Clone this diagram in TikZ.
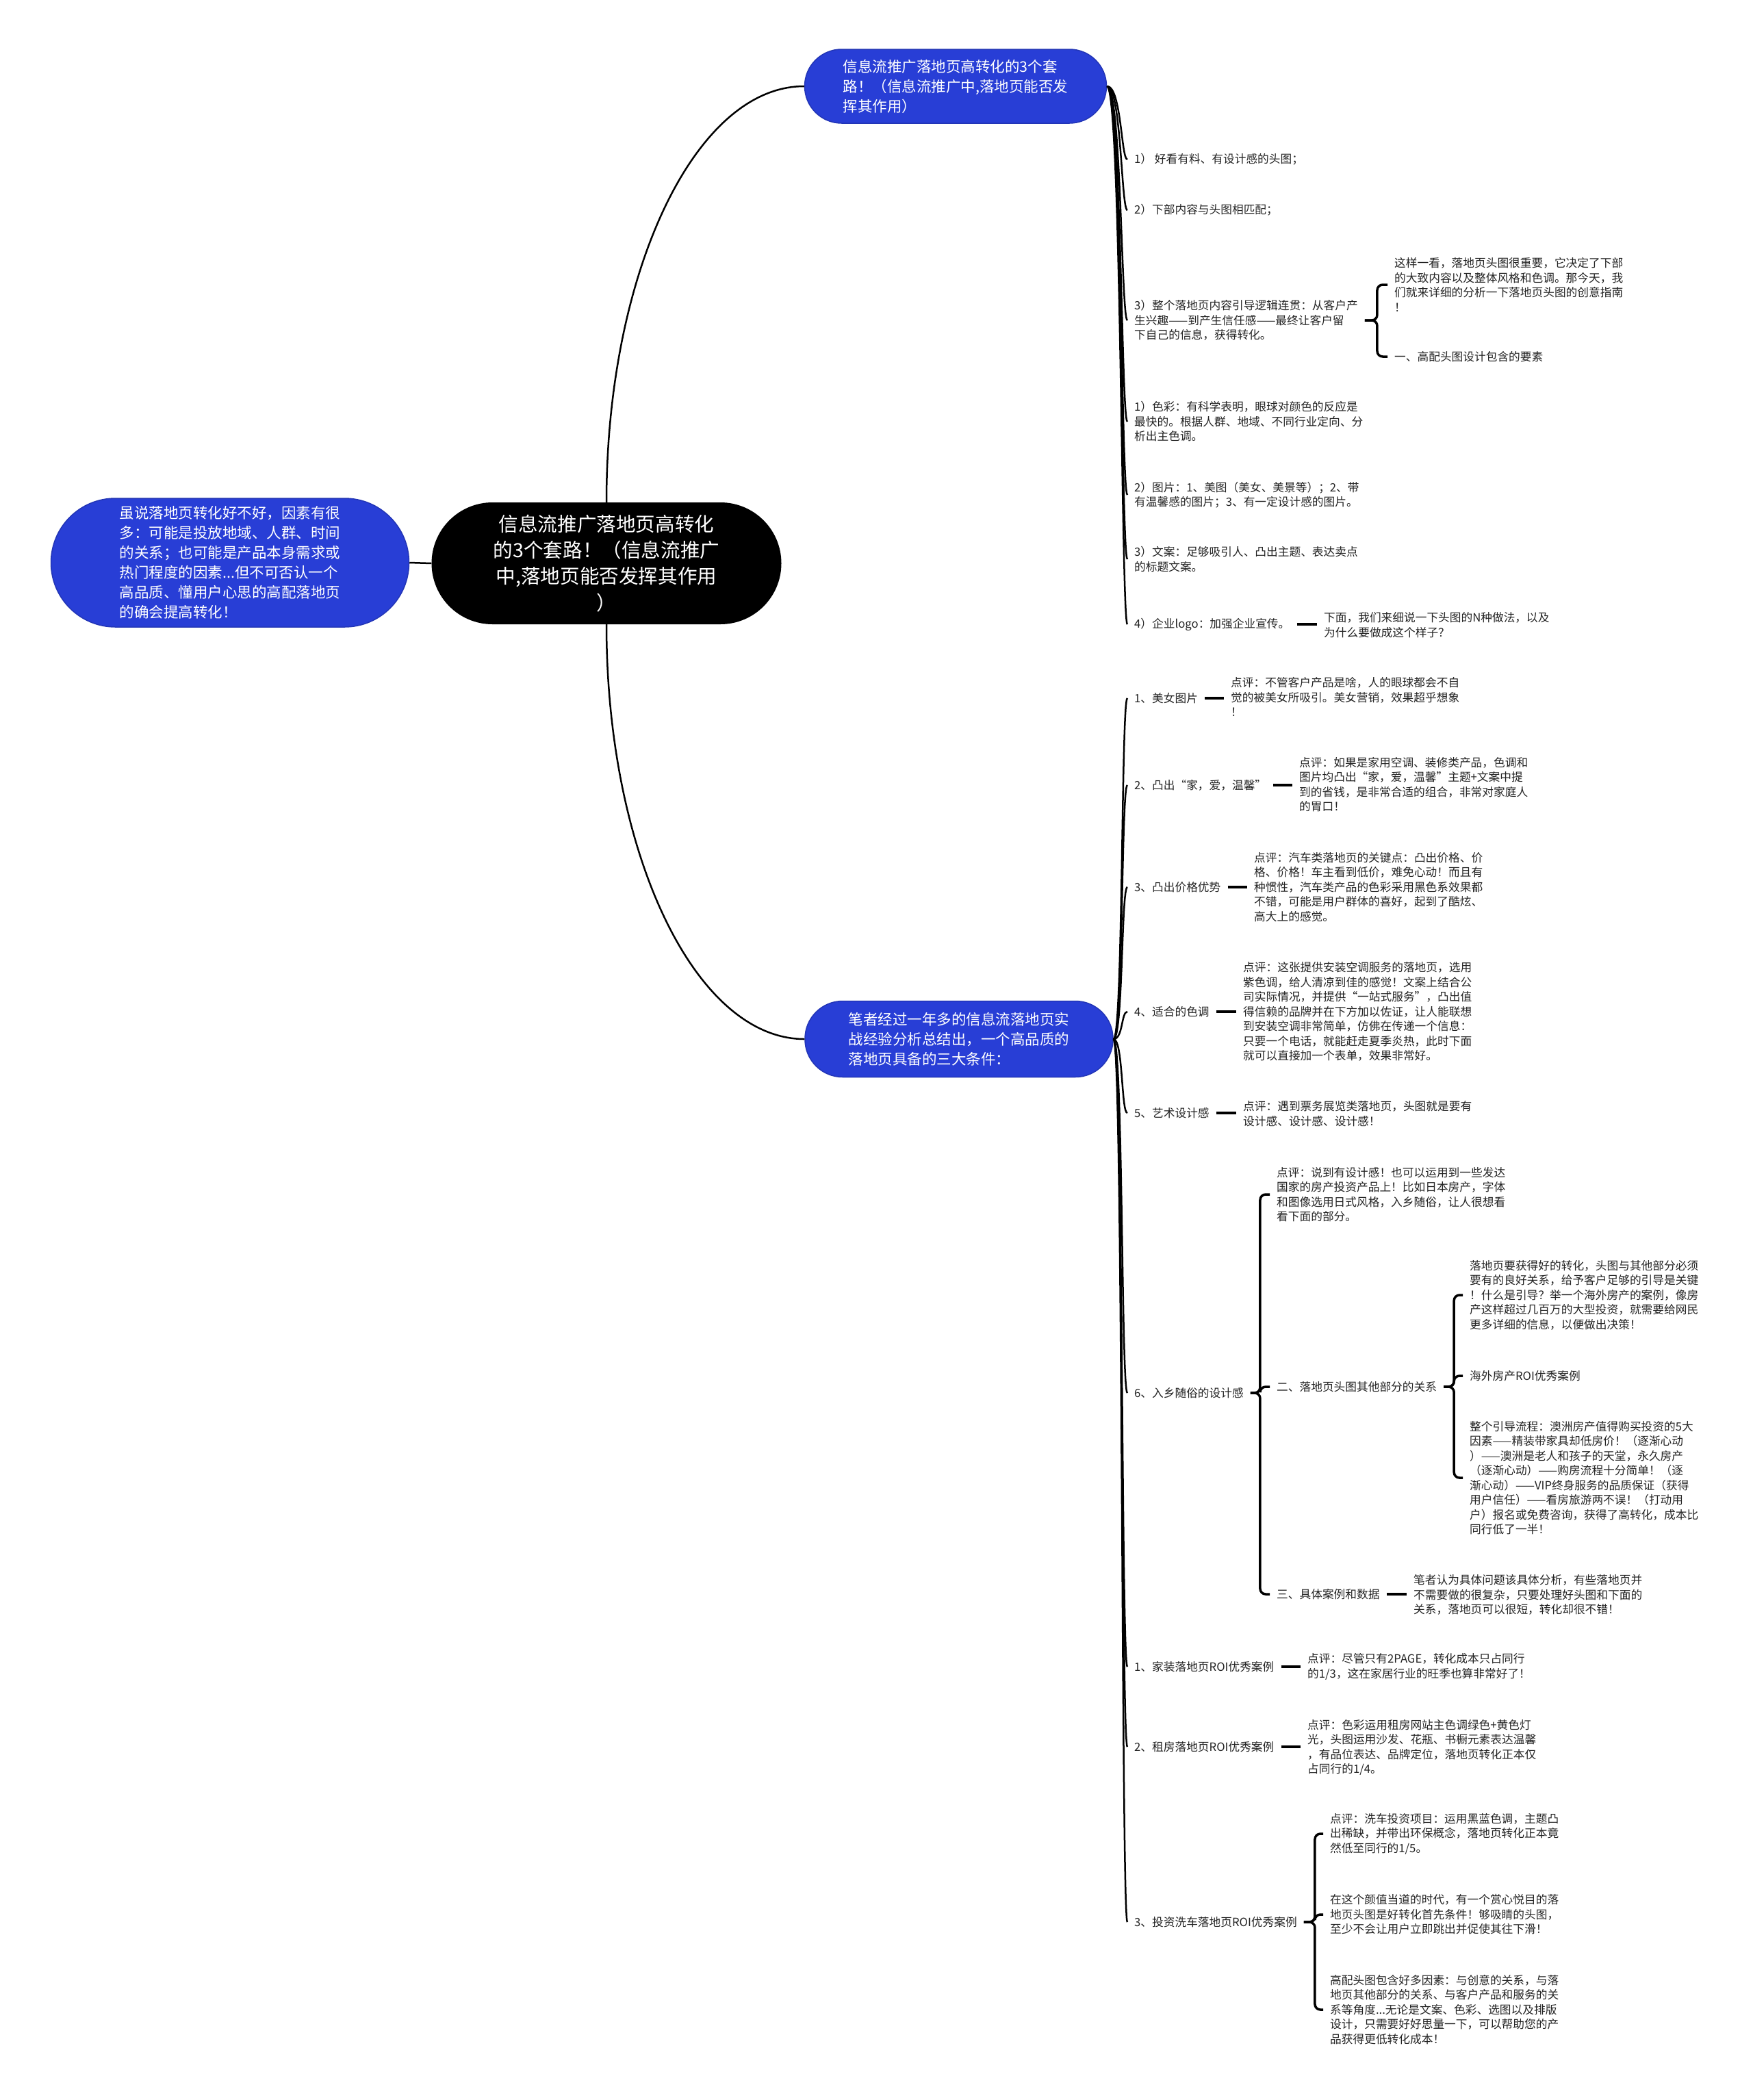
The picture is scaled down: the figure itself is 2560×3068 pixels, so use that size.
\documentclass[tikz,border=0pt]{standalone}
\usepackage{fontspec}
\setmainfont{Noto Sans CJK SC}
\usetikzlibrary{positioning,calc}

\definecolor{mapblue}{RGB}{40,62,214}
\definecolor{mapink}{RGB}{35,35,35}

\begin{document}
\begin{tikzpicture}[x=1pt, y=-1pt,
  rootbox/.style={rounded corners=89pt, fill=black, text=white, align=center, minimum width=511pt, minimum height=178pt, font=\fontsize{28.6}{38.2}\selectfont},
  topic/.style={rounded corners=54pt, fill=mapblue, draw=mapblue!85!black, line width=1.5pt, text=white, align=left, font=\fontsize{21.5}{29}\selectfont},
  note/.style={anchor=west, inner xsep=10pt, inner ysep=2pt, align=left, text=mapink, font=\fontsize{16.7}{21.5}\selectfont},
  link/.style={line width=2.5pt, black},
  brace/.style={line width=3.5pt, black, rounded corners=8pt}]
  \useasboundingbox (0,0) rectangle (2560,3068);

  \node[rootbox] (root) at (886,823)
    {信息流推广落地页高转化\\的3个套路！（信息流推广\\中,落地页能否发挥其作用\\）};
  \node[topic, minimum width=523pt, minimum height=188pt, rounded corners=94pt] (intro) at (336,822)
    {虽说落地页转化好不好，因素有很\\多：可能是投放地域、人群、时间\\的关系；也可能是产品本身需求或\\热门程度的因素...但不可否认一个\\高品质、懂用户心思的高配落地页\\的确会提高转化！};
  \node[topic, minimum width=441pt, minimum height=108pt] (tricks) at (1396,126)
    {信息流推广落地页高转化的3个套\\路！（信息流推广中,落地页能否发\\挥其作用）};
  \node[topic, minimum width=450pt, minimum height=111pt, rounded corners=55pt] (terms) at (1401,1518)
    {笔者经过一年多的信息流落地页实\\战经验分析总结出，一个高品质的\\落地页具备的三大条件：};

  \node[note] (h1) at (1647,233) {1）\ 好看有料、有设计感的头图；};
  \node[note] (h2) at (1647,307) {2）下部内容与头图相匹配；};
  \node[note] (h3) at (1647,468) {3）整个落地页内容引导逻辑连贯：从客户产\\生兴趣——到产生信任感——最终让客户留\\下自己的信息，获得转化。};
  \node[note] (h3a) at (2027,416) {这样一看，落地页头图很重要，它决定了下部\\的大致内容以及整体风格和色调。那今天，我\\们就来详细的分析一下落地页头图的创意指南\\！};
  \node[note] (h3b) at (2027,521) {一、高配头图设计包含的要素};
  \node[note] (h4) at (1647,616) {1）色彩：有科学表明，眼球对颜色的反应是\\最快的。根据人群、地域、不同行业定向、分\\析出主色调。};
  \node[note] (h5) at (1647,723) {2）图片：1、美图（美女、美景等）；2、带\\有温馨感的图片；3、有一定设计感的图片。};
  \node[note] (h6) at (1647,817) {3）文案：足够吸引人、凸出主题、表达卖点\\的标题文案。};
  \node[note] (h7) at (1647,912) {4）企业logo：加强企业宣传。};
  \node[note] (h7a) at (1924,913) {下面，我们来细说一下头图的N种做法，以及\\为什么要做成这个样子？};

  \node[note] (c1) at (1647,1020) {1、美女图片};
  \node[note] (c1a) at (1788,1018) {点评：不管客户产品是啥，人的眼球都会不自\\觉的被美女所吸引。美女营销，效果超乎想象\\！};
  \node[note] (c2) at (1647,1147) {2、凸出“家，爱，温馨”};
  \node[note] (c2a) at (1888,1146) {点评：如果是家用空调、装修类产品，色调和\\图片均凸出“家，爱，温馨”主题+文案中提\\到的省钱，是非常合适的组合，非常对家庭人\\的胃口！};
  \node[note] (c3) at (1647,1296) {3、凸出价格优势};
  \node[note] (c3a) at (1822,1296) {点评：汽车类落地页的关键点：凸出价格、价\\格、价格！车主看到低价，难免心动！而且有\\种惯性，汽车类产品的色彩采用黑色系效果都\\不错，可能是用户群体的喜好，起到了酷炫、\\高大上的感觉。};
  \node[note] (c4) at (1647,1478) {4、适合的色调};
  \node[note] (c4a) at (1806,1478) {点评：这张提供安装空调服务的落地页，选用\\紫色调，给人清凉到佳的感觉！文案上结合公\\司实际情况，并提供“一站式服务”，凸出值\\得信赖的品牌并在下方加以佐证，让人能联想\\到安装空调非常简单，仿佛在传递一个信息：\\只要一个电话，就能赶走夏季炎热，此时下面\\就可以直接加一个表单，效果非常好。};
  \node[note] (c5) at (1647,1626) {5、艺术设计感};
  \node[note] (c5a) at (1806,1627) {点评：遇到票务展览类落地页，头图就是要有\\设计感、设计感、设计感！};
  \node[note] (c6) at (1647,2035) {6、入乡随俗的设计感};
  \node[note] (c6a) at (1855,1745) {点评：说到有设计感！也可以运用到一些发达\\国家的房产投资产品上！比如日本房产，字体\\和图像选用日式风格，入乡随俗，让人很想看\\看下面的部分。};
  \node[note] (c6b) at (1855,2026) {二、落地页头图其他部分的关系};
  \node[note] (c6b1) at (2137,1892) {落地页要获得好的转化，头图与其他部分必须\\要有的良好关系，给予客户足够的引导是关键\\！什么是引导？举一个海外房产的案例，像房\\产这样超过几百万的大型投资，就需要给网民\\更多详细的信息，以便做出决策！};
  \node[note] (c6b2) at (2137,2010) {海外房产ROI优秀案例};
  \node[note] (c6b3) at (2137,2159) {整个引导流程：澳洲房产值得购买投资的5大\\因素——精装带家具却低房价！（逐渐心动\\）——澳洲是老人和孩子的天堂，永久房产\\（逐渐心动）——购房流程十分简单！（逐\\渐心动）——VIP终身服务的品质保证（获得\\用户信任）——看房旅游两不误！（打动用\\户）报名或免费咨询，获得了高转化，成本比\\同行低了一半！};
  \node[note] (c6c) at (1855,2329) {三、具体案例和数据};
  \node[note] (c6c1) at (2055,2330) {笔者认为具体问题该具体分析，有些落地页并\\不需要做的很复杂，只要处理好头图和下面的\\关系，落地页可以很短，转化却很不错！};
  \node[note] (c7) at (1647,2435) {1、家装落地页ROI优秀案例};
  \node[note] (c7a) at (1900,2435) {点评：尽管只有2PAGE，转化成本只占同行\\的1/3，这在家居行业的旺季也算非常好了！};
  \node[note] (c8) at (1647,2552) {2、租房落地页ROI优秀案例};
  \node[note] (c8a) at (1900,2553) {点评：色彩运用租房网站主色调绿色+黄色灯\\光，头图运用沙发、花瓶、书橱元素表达温馨\\，有品位表达、品牌定位，落地页转化正本仅\\占同行的1/4。};
  \node[note] (c9) at (1647,2808) {3、投资洗车落地页ROI优秀案例};
  \node[note] (c9a) at (1933,2679) {点评：洗车投资项目：运用黑蓝色调，主题凸\\出稀缺，并带出环保概念，落地页转化正本竟\\然低至同行的1/5。};
  \node[note] (c9b) at (1933,2797) {在这个颜值当道的时代，有一个赏心悦目的落\\地页头图是好转化首先条件！够吸睛的头图，\\至少不会让用户立即跳出并促使其往下滑！};
  \node[note] (c9c) at (1933,2936) {高配头图包含好多因素：与创意的关系，与落\\地页其他部分的关系、与客户产品和服务的关\\系等角度...无论是文案、色彩、选图以及排版\\设计，只需要好好思量一下，可以帮助您的产\\品获得更低转化成本！};

  \draw[link] (root.north) .. controls +(0,-334) and +(-160,0) .. (tricks.west);
  \draw[link] (root.south) .. controls +(0,334) and +(-160,0) .. (terms.west);
  \draw[link] (root.west) -- (intro.east);

  \foreach \n in {h1,h2,h3,h4,h5,h6,h7}
    \draw[link] (tricks.east) .. controls +(21,0) and +(-9,0) .. (\n.west);
  \foreach \n in {c1,c2,c3,c4,c5,c6,c7,c8,c9}
    \draw[link] (terms.east) .. controls +(14,0) and +(-9,0) .. (\n.west);

  \foreach \n in {h3a,h3b}
    \draw[brace] (h3.east) -- ++(18,0) |- (\n.west);
  \foreach \n in {c6a,c6b,c6c}
    \draw[brace] (c6.east) -- ++(14,0) |- (\n.west);
  \foreach \n in {c6b1,c6b2,c6b3}
    \draw[brace] (c6b.east) -- ++(15,0) |- (\n.west);
  \foreach \n in {c9a,c9b,c9c}
    \draw[brace] (c9.east) -- ++(16,0) |- (\n.west);

  \foreach \a/\b in {h7/h7a,c1/c1a,c2/c2a,c3/c3a,c4/c4a,c5/c5a,c6c/c6c1,c7/c7a,c8/c8a}
    \draw[brace] (\a.east) -- (\a.east -| \b.west);
\end{tikzpicture}
\end{document}
